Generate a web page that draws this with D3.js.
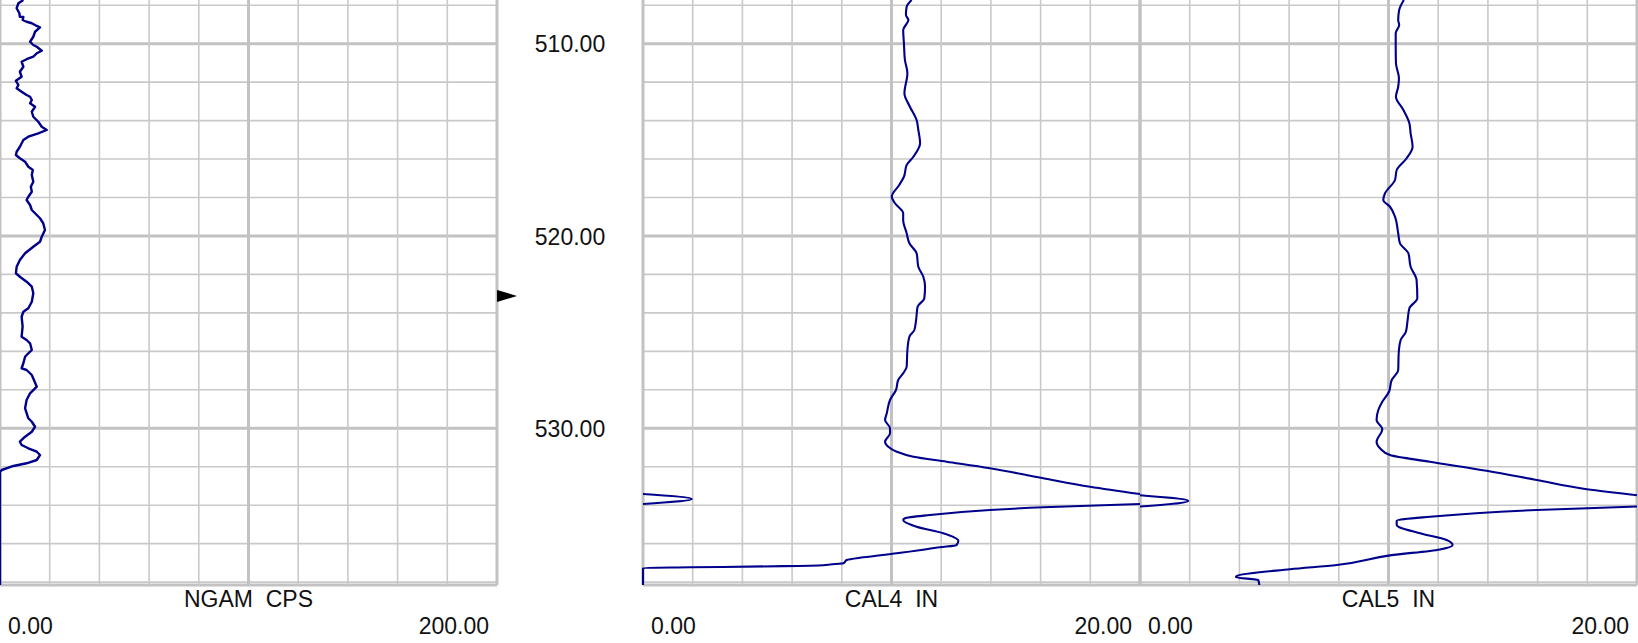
<!DOCTYPE html>
<html>
<head>
<meta charset="utf-8">
<script src="https://cdn.jsdelivr.net/npm/d3@7/dist/d3.min.js"></script>
<style>
  html, body { margin: 0; padding: 0; background: #ffffff; }
  svg { display: block; }
  text { font-family: "Liberation Sans", Arial, sans-serif; fill: #111; }
</style>
</head>
<body>
<svg id="chart" width="1638" height="643"></svg>
<script>
// ---------------- DATA ----------------
const trackNames = ["NGAM", "CAL4", "CAL5"];
const trackUnits = ["CPS", "IN", "IN"];
const trackMin = [0, 0, 0];
const trackMax = [200, 20, 20];
const depthLabels = [510, 520, 530];
const depthRange = [507.73, 538.15];
const markerDepth = 523.12;

const ngamDepth = [507.73,507.90,508.16,508.42,508.60,508.61,508.77,508.86,508.94,509.08,509.15,509.38,509.64,509.90,510.07,510.16,510.37,510.50,510.68,510.81,510.94,511.20,511.46,511.72,511.93,512.15,512.32,512.50,512.67,512.76,512.93,513.10,513.28,513.54,513.80,514.06,514.32,514.49,514.66,514.84,515.01,515.36,515.62,515.79,515.96,516.14,516.40,516.57,516.83,517.18,517.44,517.70,517.96,518.13,518.39,518.65,518.82,519.08,519.34,519.69,520.04,520.30,520.56,520.90,521.25,521.60,521.94,522.12,522.38,522.64,522.98,523.42,523.76,523.94,524.20,524.72,525.24,525.41,525.58,525.93,526.10,526.28,526.62,526.88,526.97,527.23,527.84,528.18,528.53,528.96,529.48,529.66,529.92,530.18,530.44,530.70,530.87,531.04,531.22,531.39,531.65,531.82,531.96,532.17,532.27,538.15];
const ngamValues = [9.4,7.4,6.7,7.8,8.0,9.4,9.1,10.7,12.8,14.8,16.1,14.1,13.4,12.1,13.4,14.8,16.8,14.8,13.4,10.7,8.7,9.4,8.0,8.7,6.4,7.4,6.7,8.7,10.7,12.1,12.8,12.1,14.1,12.8,13.4,15.4,16.8,18.8,15.4,11.4,9.4,8.0,6.7,6.4,8.0,10.1,11.4,13.2,12.8,13.4,12.4,12.8,11.4,10.7,12.1,12.8,14.1,16.1,17.4,18.1,16.8,16.1,13.4,10.1,8.0,6.7,6.4,8.0,10.7,12.8,13.4,12.8,11.4,9.4,8.7,9.1,8.7,10.7,12.1,12.8,11.4,10.1,9.4,8.7,10.7,12.8,14.8,12.1,10.7,10.1,11.4,12.8,14.1,12.8,10.1,8.0,8.7,11.4,14.8,16.1,14.8,10.7,5.4,0.7,0,0];

const cal4Depth = [507.73,508.08,508.51,508.77,509.29,509.98,510.85,511.54,512.58,513.28,513.97,514.49,515.18,515.88,516.31,516.92,517.35,517.96,518.30,518.82,519.17,519.86,520.38,520.90,521.60,522.12,522.64,523.24,523.68,524.37,524.89,525.24,525.93,526.80,527.14,527.49,528.01,528.53,529.22,529.57,530.00,530.26,530.70,530.96,531.22,531.48,531.74,532.08,532.60,533.04,533.42,533.68,533.94,534.11,534.25,534.51,534.68,534.77,535.12,535.46,535.85,536.07,536.19,536.50,536.71,536.85,537.02,537.08,537.12,537.17,537.23,537.26,538.15];
const cal4Values = [10.81,10.61,10.58,10.68,10.47,10.50,10.54,10.64,10.52,10.74,11.01,11.08,11.15,10.88,10.61,10.50,10.31,10.01,10.14,10.47,10.47,10.61,10.72,11.01,11.08,11.28,11.35,11.32,11.05,10.99,10.92,10.72,10.64,10.61,10.47,10.27,10.18,9.94,9.81,9.74,9.94,9.94,9.74,9.87,10.21,10.88,12.22,13.96,16.11,17.99,20.0,21.96,20.0,16.11,13.96,11.55,10.54,10.47,11.01,12.08,12.69,12.62,11.95,10.21,8.87,8.20,8.06,7.53,7.26,5.65,1.89,0,0];

const cal5Depth = [507.73,508.25,508.77,509.03,509.46,510.16,511.02,511.80,512.24,512.76,513.45,514.14,514.66,515.36,515.96,516.57,517.09,517.78,518.13,518.48,519.00,519.86,520.38,520.90,521.60,522.29,523.24,523.76,524.37,524.98,525.41,526.10,526.97,527.49,528.10,528.62,529.05,529.57,530.05,530.70,531.04,531.39,531.74,532.21,532.69,533.17,533.48,533.78,534.07,534.25,534.60,534.81,535.03,535.46,535.81,536.07,536.30,536.61,537.11,537.33,537.68,537.75,537.89,538.15];
const cal5Values = [10.62,10.43,10.39,10.43,10.29,10.29,10.30,10.42,10.39,10.30,10.60,10.84,10.89,10.97,10.73,10.33,10.26,9.86,9.79,10.06,10.26,10.39,10.46,10.80,10.89,11.13,11.16,10.84,10.77,10.70,10.49,10.41,10.39,10.13,10.02,9.75,9.59,9.52,9.75,9.52,9.66,10.06,11.67,13.95,15.96,17.98,20.0,21.94,20.0,15.96,11.67,10.33,10.33,11.27,12.34,12.58,12.07,10.06,7.92,6.04,3.89,3.86,4.76,4.80];

const seriesDepth = [ngamDepth, cal4Depth, cal5Depth];
const seriesValues = [ngamValues, cal4Values, cal5Values];

// ---------------- LAYOUT ----------------
const W = 1638, H = 643;
const plotBottom = 585;
const trackX = [[0, 497], [643, 1140], [1140, 1637]];
const depthTrackX = [497, 643];
const titleY = 607, scaleLabelY = 634;
const gridThin = "#c9c9c9", gridThick = "#c2c2c2";
const curveColor = "#00008b";
const curveWidth = [2.4, 2.1, 2.1];

const svg = d3.select("#chart");
svg.append("rect").attr("width", W).attr("height", H).attr("fill", "#fff");

const y = d3.scaleLinear().domain(depthRange).range([0, plotBottom]);
const fmt = d3.format(".2f");

const gridDepths = d3.range(508, 539, 2);

function wrapSegments(pts, span) {
  const band = v => Math.floor(v / span + 1e-9);
  const segs = [];
  let cur = [];
  let prev = null, prevB = 0;
  pts.forEach((p, i) => {
    const b = Math.max(0, band(p.v));
    if (i > 0 && b !== prevB) {
      const edge = Math.max(b, prevB) * span;
      const t = (edge - prev.v) / (p.v - prev.v);
      const dc = prev.d + t * (p.d - prev.d);
      cur.push({d: dc, v: edge - prevB * span});
      segs.push(cur);
      cur = [{d: dc, v: edge - b * span}];
    }
    cur.push({d: p.d, v: p.v - b * span});
    prev = p; prevB = b;
  });
  segs.push(cur);
  return segs.map(s => s.filter((q, k) => k === 0 || Math.abs(q.d - s[k-1].d) > 1e-9))
             .filter(s => s.length > 1);
}

const gridG = svg.append("g");
const curveG = svg.append("g");

trackNames.forEach((name, ti) => {
  const [x0, x1] = trackX[ti];
  const x = d3.scaleLinear().domain([trackMin[ti], trackMax[ti]]).range([x0, x1]);
  const step = (trackMax[ti] - trackMin[ti]) / 10;
  const vTicks = d3.range(0, 11).map(i => ({v: trackMin[ti] + i * step, major: i % 5 === 0}));

  const g = gridG.append("g");
  g.selectAll("line.h").data(gridDepths).join("line")
    .attr("x1", x0).attr("x2", x1)
    .attr("y1", d => y(d)).attr("y2", d => y(d))
    .attr("stroke", d => d % 10 === 0 ? gridThick : gridThin)
    .attr("stroke-width", d => d % 10 === 0 ? 3 : 1.6);
  g.append("line").attr("x1", x0).attr("x2", x1)
    .attr("y1", plotBottom).attr("y2", plotBottom)
    .attr("stroke", gridThick).attr("stroke-width", 3);
  g.selectAll("line.v").data(vTicks).join("line")
    .attr("x1", d => x(d.v)).attr("x2", d => x(d.v))
    .attr("y1", 0).attr("y2", plotBottom)
    .attr("stroke", d => d.major ? gridThick : gridThin)
    .attr("stroke-width", d => d.major ? 3 : 1.6);

  const pts = seriesDepth[ti].map((d, i) => ({d: d, v: seriesValues[ti][i]}));
  const segs = wrapSegments(pts, trackMax[ti] - trackMin[ti]);
  const line = d3.line()
    .x(p => x(p.v)).y(p => y(p.d))
    .curve(ti === 0 ? d3.curveLinear : d3.curveMonotoneY);
  curveG.selectAll(null).data(segs).join("path")
    .attr("d", line)
    .attr("fill", "none")
    .attr("stroke", curveColor)
    .attr("stroke-width", curveWidth[ti])
    .attr("stroke-linejoin", "round");

  svg.append("text")
    .attr("x", (x0 + x1) / 2).attr("y", titleY)
    .attr("text-anchor", "middle")
    .style("font-size", "23px").style("white-space", "pre")
    .text(name + "  " + trackUnits[ti]);
  svg.append("text")
    .attr("x", x0 + 8).attr("y", scaleLabelY)
    .attr("text-anchor", "start").style("font-size", "23px")
    .text(fmt(trackMin[ti]));
  svg.append("text")
    .attr("x", x1 - 8).attr("y", scaleLabelY)
    .attr("text-anchor", "end").style("font-size", "23px")
    .text(fmt(trackMax[ti]));
});

const depthAxis = d3.axisRight(y).tickValues(depthLabels).tickFormat(fmt).tickSize(0).tickPadding(0);
const axG = svg.append("g")
  .attr("transform", `translate(${(depthTrackX[0] + depthTrackX[1]) / 2},0)`)
  .call(depthAxis);
axG.select(".domain").remove();
axG.selectAll("text")
  .attr("x", 0).attr("dy", "0.35em")
  .attr("text-anchor", "middle")
  .attr("fill", "#111")
  .style("font-size", "23px")
  .style("font-family", "'Liberation Sans', Arial, sans-serif");

const my = y(markerDepth);
svg.append("path")
  .attr("d", d3.line()([[depthTrackX[0], my - 6], [depthTrackX[0] + 20, my], [depthTrackX[0], my + 6]]) + "Z")
  .attr("fill", "#000");
</script>
</body>
</html>
